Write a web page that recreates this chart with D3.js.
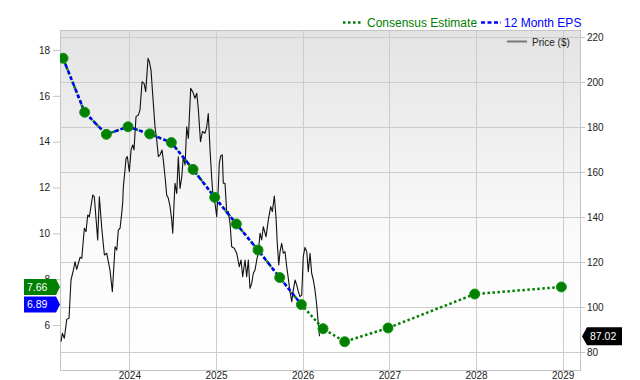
<!DOCTYPE html>
<html><head><meta charset="utf-8">
<script src="https://cdn.jsdelivr.net/npm/d3@7"></script>
<style>body{margin:0;background:#fff;} svg{display:block;font-family:"Liberation Sans",Arial,sans-serif;}</style>
</head><body><svg id="c" width="640" height="380"></svg>
<script>
// ---- data ----
const epsDates = [2023.235, 2023.485, 2023.735, 2023.985, 2024.235, 2024.485, 2024.735, 2024.985, 2025.235, 2025.485, 2025.735, 2025.985];
const epsValues = [17.64, 15.28, 14.32, 14.65, 14.34, 13.96, 12.79, 11.57, 10.41, 9.27, 8.07, 6.89];
const estDates = [2026.235, 2026.485, 2026.985, 2027.985, 2028.985];
const estValues = [5.84, 5.27, 5.87, 7.35, 7.66];
const yearTicks = [2024, 2025, 2026, 2027, 2028, 2029];
const epsTicks = [6, 8, 10, 12, 14, 16, 18];
const priceTicks = [80, 100, 120, 140, 160, 180, 200, 220];
const lastPrice = 87.02;
const priceSeries = [
[2023.212,84.6],[2023.227,88.3],[2023.250,86.1],[2023.278,94.5],[2023.304,95],[2023.327,112],[2023.354,116.4],[2023.374,120.1],[2023.393,116.7],[2023.431,122.1],[2023.451,121.6],[2023.481,135],[2023.500,133.5],[2023.520,140.9],[2023.539,140.1],[2023.578,149.8],[2023.596,149],[2023.635,129.8],[2023.654,149],[2023.682,135],[2023.712,123.1],[2023.739,123.9],[2023.777,116.4],[2023.804,106.8],[2023.835,126.8],[2023.855,125.3],[2023.873,134.2],[2023.893,135],[2023.912,141.6],[2023.924,146.8],[2023.931,153.5],[2023.950,160.9],[2023.962,166.1],[2023.977,166.8],[2024.000,160.1],[2024.020,169.8],[2024.039,172],[2024.054,169.8],[2024.077,184.6],[2024.104,185.3],[2024.123,187.6],[2024.147,200.1],[2024.170,199.4],[2024.189,195.7],[2024.216,210.5],[2024.231,209],[2024.250,205.3],[2024.277,190.5],[2024.296,180.1],[2024.316,174.2],[2024.335,166.8],[2024.354,167.6],[2024.377,169.8],[2024.392,165.3],[2024.412,157.9],[2024.431,149.8],[2024.450,148.3],[2024.470,144.6],[2024.489,138.7],[2024.501,132.8],[2024.516,146.1],[2024.527,155],[2024.547,150.5],[2024.565,166.8],[2024.585,152.7],[2024.605,157.9],[2024.623,166.8],[2024.643,163.1],[2024.662,180.1],[2024.681,174.9],[2024.708,197.2],[2024.731,195.7],[2024.758,192.8],[2024.778,195],[2024.796,188],[2024.821,173.5],[2024.844,178],[2024.873,177.2],[2024.893,180.1],[2024.911,186],[2024.931,170],[2024.951,157],[2024.969,147.6],[2024.989,146.1],[2025.008,140.1],[2025.027,153.5],[2025.038,163.9],[2025.054,167.1],[2025.073,167.6],[2025.084,155],[2025.104,155],[2025.124,141.6],[2025.142,142.4],[2025.162,137.2],[2025.181,126.8],[2025.211,126.1],[2025.239,123.9],[2025.269,117.9],[2025.289,120.9],[2025.308,113.5],[2025.335,120.9],[2025.354,113.5],[2025.373,120.9],[2025.392,108.3],[2025.412,110.5],[2025.431,115],[2025.450,116.4],[2025.470,120.9],[2025.488,123.9],[2025.508,132.8],[2025.527,129.8],[2025.546,135.7],[2025.577,131.2],[2025.604,138.7],[2025.631,144.6],[2025.650,142.4],[2025.673,149.3],[2025.692,140.1],[2025.707,128.3],[2025.724,118.7],[2025.739,124.6],[2025.758,128.3],[2025.777,123.9],[2025.796,124.6],[2025.816,117.9],[2025.834,112.8],[2025.854,106.8],[2025.874,102.4],[2025.892,107.6],[2025.912,112],[2025.931,109.8],[2025.950,106.8],[2025.969,104.6],[2025.989,105.3],[2026.007,122.4],[2026.027,126.5],[2026.047,124.6],[2026.065,115.7],[2026.085,123.9],[2026.104,115],[2026.123,112],[2026.142,107.6],[2026.162,100.9],[2026.180,92.7],[2026.194,87.02]
];

// ---- layout ----
const L = 60, R = 580, T = 30, B = 370;
const svg = d3.select("#c");
const x = d3.scaleLinear().domain([2023.2, 2029.2]).range([L, R]);
const yL = d3.scaleLinear().domain([6, 18]).range([325, 50]);
const yR = d3.scaleLinear().domain([80, 220]).range([352, 37]);

const defs = svg.append("defs");
const grad = defs.append("linearGradient").attr("id", "bg").attr("x1", 0).attr("y1", 0).attr("x2", 0).attr("y2", 1);
grad.append("stop").attr("offset", "0").attr("stop-color", "#e3e3e3");
grad.append("stop").attr("offset", "0.6").attr("stop-color", "#fafafa");
grad.append("stop").attr("offset", "1").attr("stop-color", "#ffffff");
defs.append("clipPath").attr("id", "clip").append("rect").attr("x", L).attr("y", T).attr("width", R - L).attr("height", B - T);

svg.append("rect").attr("x", L).attr("y", T).attr("width", R - L).attr("height", B - T).attr("fill", "url(#bg)");

// grid
const grid = svg.append("g").attr("stroke", "#cccccc").attr("stroke-width", 1);
grid.selectAll("line.h").data(priceTicks).join("line").attr("class", "h")
  .attr("x1", L).attr("x2", R).attr("y1", d => Math.round(yR(d)) + 0.5).attr("y2", d => Math.round(yR(d)) + 0.5);
grid.selectAll("line.v").data(yearTicks).join("line").attr("class", "v")
  .attr("y1", T).attr("y2", B).attr("x1", d => Math.round(x(d)) + 0.5).attr("x2", d => Math.round(x(d)) + 0.5);
svg.append("rect").attr("x", L + 0.5).attr("y", T + 0.5).attr("width", R - L).attr("height", B - T)
  .attr("fill", "none").attr("stroke", "#c4c4c4");

// axes
function styleAxis(g) {
  g.select(".domain").remove();
  g.selectAll(".tick line").attr("stroke", "#c4c4c4");
  g.selectAll("text").attr("fill", "#222").attr("font-size", 10).attr("font-family", '"Liberation Sans",Arial,sans-serif');
}
svg.append("g").attr("transform", `translate(${L},0)`)
  .call(d3.axisLeft(yL).tickValues(epsTicks).tickSize(7).tickPadding(3).tickFormat(d3.format("d"))).call(styleAxis);
svg.append("g").attr("transform", `translate(${R},0)`)
  .call(d3.axisRight(yR).tickValues(priceTicks).tickSize(5).tickPadding(2).tickFormat(d3.format("d"))).call(styleAxis);
svg.append("g").attr("transform", `translate(0,${B})`)
  .call(d3.axisBottom(x).tickValues(yearTicks).tickSize(0).tickPadding(2).tickFormat(d3.format("d"))).call(styleAxis);

// lines
const plot = svg.append("g").attr("clip-path", "url(#clip)");
const priceLine = d3.line().x(d => x(d[0])).y(d => yR(d[1]));
plot.append("path").datum(priceSeries).attr("d", priceLine)
  .attr("fill", "none").attr("stroke", "#111").attr("stroke-width", 1.1).attr("stroke-linejoin", "round");

const epsPts = epsDates.map((d, i) => [d, epsValues[i]]);
const estPts = epsPts.concat(estDates.map((d, i) => [d, estValues[i]]));
const epsLine = d3.line().x(d => x(d[0])).y(d => yL(d[1]));
plot.append("path").datum(estPts).attr("d", epsLine)
  .attr("fill", "none").attr("stroke", "#008000").attr("stroke-width", 2.5).attr("stroke-dasharray", "2.5,2.5");
plot.append("path").datum(epsPts).attr("d", epsLine)
  .attr("fill", "none").attr("stroke", "#0000ff").attr("stroke-width", 2.5).attr("stroke-dasharray", "4,2.5");
plot.selectAll("circle.m").data(estPts).join("circle").attr("class", "m")
  .attr("cx", d => x(d[0])).attr("cy", d => yL(d[1])).attr("r", 5)
  .attr("fill", "#008000").attr("stroke", "#1c941c").attr("stroke-width", 1);

// value tags
function leftTag(v, color) {
  const c = yL(v);
  svg.append("path").attr("d", `M24,${c - 8}H56L60,${c}L56,${c + 8}H24Z`).attr("fill", color);
  svg.append("text").attr("x", 27).attr("y", c + 3.6).attr("fill", "#fff").attr("font-size", 10.5).text(v.toFixed(2));
}
leftTag(estValues[estValues.length - 1], "#008000");
leftTag(epsValues[epsValues.length - 1], "#0000ff");
{
  const c = yR(lastPrice);
  svg.append("path").attr("d", `M582,${c}L587,${c - 9}H622V${c + 9}H587Z`).attr("fill", "#000");
  svg.append("text").attr("x", 590).attr("y", c + 3.6).attr("fill", "#fff").attr("font-size", 10.5).text(lastPrice.toFixed(2));
}

// legend
const lg = svg.append("g");
lg.append("line").attr("x1", 343).attr("x2", 362).attr("y1", 22.5).attr("y2", 22.5)
  .attr("stroke", "#008000").attr("stroke-width", 2.5).attr("stroke-dasharray", "2.5,2.5");
lg.append("text").attr("x", 367).attr("y", 27).attr("font-size", 12).attr("fill", "#008000").text("Consensus Estimate");
lg.append("line").attr("x1", 481).attr("x2", 501).attr("y1", 22.5).attr("y2", 22.5)
  .attr("stroke", "#0000ff").attr("stroke-width", 2.5).attr("stroke-dasharray", "4,2.5");
lg.append("text").attr("x", 504).attr("y", 27).attr("font-size", 12).attr("fill", "#0000ff").text("12 Month EPS");
lg.append("line").attr("x1", 507).attr("x2", 527).attr("y1", 41.5).attr("y2", 41.5)
  .attr("stroke", "#777").attr("stroke-width", 2);
lg.append("text").attr("x", 532).attr("y", 45.5).attr("font-size", 10).attr("fill", "#222").text("Price ($)");
</script>
</body></html>
